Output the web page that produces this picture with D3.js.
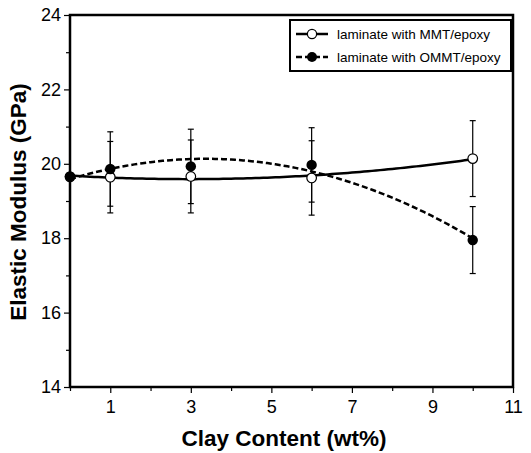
<!DOCTYPE html>
<html><head><meta charset="utf-8">
<script src="https://cdn.jsdelivr.net/npm/d3@7"></script>
<style>body{margin:0;background:#fff}svg{display:block}text{font-family:Arial,"Liberation Sans",sans-serif}</style>
</head><body>
<svg id="c" width="531" height="453"></svg>
<script>
const clay = [0, 1, 3, 6, 10];
const mmt = [19.65, 19.64, 19.66, 19.62, 20.14];
const mmtErr = [0, 0.96, 0.98, 1.0, 1.02];
const ommt = [19.66, 19.86, 19.93, 19.97, 17.95];
const ommtErr = [0, 1.0, 1.0, 1.0, 0.9];
const xTicks = [1, 3, 5, 7, 9, 11];
const xMinor = [0, 2, 4, 6, 8, 10];
const yTicks = [14, 16, 18, 20, 22, 24];
const yMinor = [15, 17, 19, 21, 23];
const seriesNames = ["laminate with MMT/epoxy", "laminate with OMMT/epoxy"];

const svg = d3.select("#c");
const L = 70, R = 513, T = 15, B = 387;
const x = d3.scaleLinear().domain([0, 11]).range([L, R]);
const y = d3.scaleLinear().domain([14, 24]).range([B, T]);

// quadratic least-squares trend line from data
function quadFit(xs, ys) {
  let S = [0,0,0,0,0], Sy = [0,0,0];
  xs.forEach((xi, i) => {
    for (let k = 0; k < 5; k++) S[k] += Math.pow(xi, k);
    for (let k = 0; k < 3; k++) Sy[k] += Math.pow(xi, k) * ys[i];
  });
  const M = [[S[0],S[1],S[2],Sy[0]],[S[1],S[2],S[3],Sy[1]],[S[2],S[3],S[4],Sy[2]]];
  for (let i = 0; i < 3; i++) {
    for (let j = i + 1; j < 3; j++) {
      const f = M[j][i] / M[i][i];
      for (let k = i; k < 4; k++) M[j][k] -= f * M[i][k];
    }
  }
  const c = [0,0,0];
  for (let i = 2; i >= 0; i--) {
    let s = M[i][3];
    for (let k = i + 1; k < 3; k++) s -= M[i][k] * c[k];
    c[i] = s / M[i][i];
  }
  return t => c[0] + c[1] * t + c[2] * t * t;
}

// axes
const xAxis = d3.axisBottom(x).tickValues(xTicks).tickSize(6).tickPadding(7).tickFormat(d3.format("d"));
const gx = svg.append("g").attr("transform", `translate(0,${B})`).call(xAxis);
const gxm = svg.append("g").attr("transform", `translate(0,${B})`).call(d3.axisBottom(x).tickValues(xMinor).tickSize(4).tickFormat(""));
const yAxis = d3.axisLeft(y).tickValues(yTicks).tickSize(6).tickPadding(3).tickFormat(d3.format("d"));
const gy = svg.append("g").attr("transform", `translate(${L},0)`).call(yAxis);
const gym = svg.append("g").attr("transform", `translate(${L},0)`).call(d3.axisLeft(y).tickValues(yMinor).tickSize(4).tickFormat(""));
[gx, gxm, gy, gym].forEach(g => {
  g.select(".domain").remove();
  g.selectAll("line").attr("stroke", "#000").attr("stroke-width", 1.2);
  g.selectAll("text").attr("fill", "#000").style("font-size", "18px");
});

// frame
svg.append("rect").attr("x", L).attr("y", T).attr("width", R - L).attr("height", B - T)
  .attr("fill", "none").attr("stroke", "#000").attr("stroke-width", 2.5);

// trend lines
const xs = d3.range(0, 10.001, 0.1);
const line = d3.line().x(d => x(d[0])).y(d => y(d[1]));
const fM = quadFit(clay, mmt), fO = quadFit(clay, ommt);
svg.append("path").attr("d", line(xs.map(t => [t, fM(t)]))).attr("fill", "none")
  .attr("stroke", "#000").attr("stroke-width", 2.5);
svg.append("path").attr("d", line(xs.map(t => [t, fO(t)]))).attr("fill", "none")
  .attr("stroke", "#000").attr("stroke-width", 2.5).attr("stroke-dasharray", "6,3");

// error bars
function errBars(vals, errs) {
  const g = svg.append("g").attr("stroke", "#000").attr("stroke-width", 1.2);
  clay.forEach((c, i) => {
    if (!errs[i]) return;
    const cx = x(c), y1 = y(vals[i] + errs[i]), y2 = y(vals[i] - errs[i]);
    g.append("line").attr("x1", cx).attr("x2", cx).attr("y1", y1).attr("y2", y2);
    g.append("line").attr("x1", cx - 3).attr("x2", cx + 3).attr("y1", y1).attr("y2", y1);
    g.append("line").attr("x1", cx - 3).attr("x2", cx + 3).attr("y1", y2).attr("y2", y2);
  });
}
errBars(mmt, mmtErr);
errBars(ommt, ommtErr);

// markers
svg.append("g").selectAll("circle").data(clay).join("circle")
  .attr("cx", d => x(d)).attr("cy", (d, i) => y(mmt[i])).attr("r", 4.8)
  .attr("fill", "#fff").attr("stroke", "#000").attr("stroke-width", 1.2);
svg.append("g").selectAll("circle").data(clay).join("circle")
  .attr("cx", d => x(d)).attr("cy", (d, i) => y(ommt[i])).attr("r", 5.2)
  .attr("fill", "#000");

// legend
const lg = svg.append("g");
lg.append("rect").attr("x", 290).attr("y", 20).attr("width", 221).attr("height", 51)
  .attr("fill", "#fff").attr("stroke", "#000").attr("stroke-width", 2);
seriesNames.forEach((name, i) => {
  const ly = 34 + i * 23;
  lg.append("line").attr("x1", 296).attr("x2", 328).attr("y1", ly).attr("y2", ly)
    .attr("stroke", "#000").attr("stroke-width", 2.5).attr("stroke-dasharray", i ? "6,3" : null);
  lg.append("circle").attr("cx", 312).attr("cy", ly).attr("r", i ? 5 : 4.6)
    .attr("fill", i ? "#000" : "#fff").attr("stroke", i ? "none" : "#000").attr("stroke-width", 1.2);
  lg.append("text").attr("x", 337).attr("y", ly + 4.7).style("font-size", "13.5px").text(name);
});

// titles
svg.append("text").attr("x", 284).attr("y", 446).attr("text-anchor", "middle")
  .style("font-size", "22.5px").style("font-weight", "bold").text("Clay Content (wt%)");
svg.append("text").attr("transform", "translate(25.5,202) rotate(-90)").attr("text-anchor", "middle")
  .style("font-size", "22.5px").style("font-weight", "bold").text("Elastic Modulus (GPa)");
</script>
</body></html>
